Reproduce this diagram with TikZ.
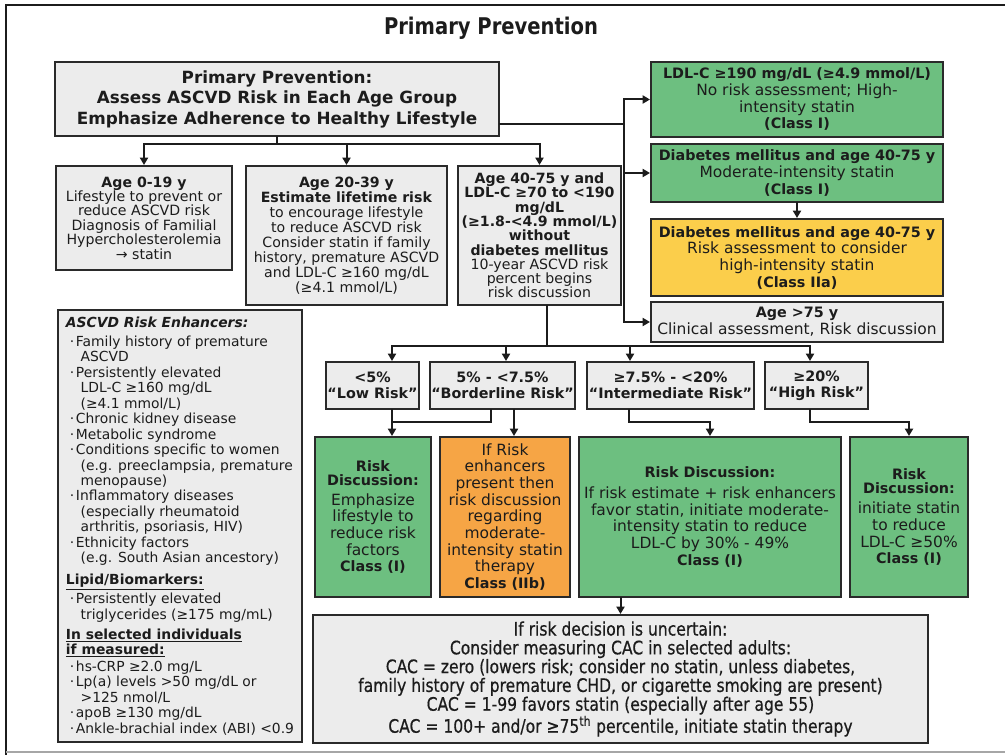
\documentclass[tikz,border=0pt]{standalone}
\usepackage{fontspec}
\setmainfont{DejaVu Sans}
\newfontfamily\headfont[FakeStretch=0.85]{DejaVu Sans}
\newfontfamily\condfont[FakeStretch=0.84,FakeBold=0.6]{DejaVu Sans}
\usetikzlibrary{positioning,calc,arrows.meta}
\definecolor{panel}{HTML}{ECECEC}
\definecolor{leaf}{HTML}{6DBF80}
\definecolor{amber}{HTML}{FBCE4B}
\definecolor{tangerine}{HTML}{F6A545}
\definecolor{edge}{HTML}{2A2A2A}
\definecolor{ink}{HTML}{1C1C1C}
\newcommand{\hd}[1]{{\bfseries\fontsize{10.75}{12.5}\selectfont#1}}
\newcommand{\itm}{\hspace*{3pt}\makebox[4.5pt][l]{·}}
\newcommand{\cnt}{\hspace*{11pt}}

\begin{document}
\begin{tikzpicture}[x=0.75pt,y=-0.75pt,
 box/.style={draw=edge,line width=1.5pt,fill=panel,inner sep=0pt,align=center,text=ink,font=\fontsize{11.6}{12.5}\selectfont},
 leafbox/.style={box,fill=leaf},
 amberbox/.style={box,fill=amber},
 orangebox/.style={box,fill=tangerine},
 agebox/.style={box,font=\fontsize{10.6}{10.8}\selectfont},
 riskbox/.style={box,font=\bfseries\fontsize{10.75}{12}\selectfont,minimum height=35.25pt},
 talkbox/.style={box,fill=leaf,minimum height=120pt},
 link/.style={draw=ink,line width=1.5pt,line cap=rect},
 arrow/.style={link,-{Triangle[length=5.5pt,width=6pt]}}]
 \useasboundingbox (0,0) rectangle (1005,755);
 \draw[ink,line width=2.2pt] (6,755) -- (6,5) -- (1005,5);
 \draw[gray!70,line width=1.5pt] (6,752) -- (1005,752);
 \node[anchor=base,text=ink,font=\headfont\bfseries\fontsize{17.25}{20}\selectfont] (title) at (491,35) {Primary Prevention};

 \node[box,minimum width=333pt,minimum height=55.5pt,font=\bfseries\fontsize{12.6}{15.4}\selectfont] (main) at (277,99) {Primary Prevention:\\Assess ASCVD Risk in Each Age Group\\Emphasize Adherence to Healthy Lifestyle};
 \node[agebox,minimum width=132pt,minimum height=78pt] (age1) at (144,218) {\textbf{Age 0-19 y}\\Lifestyle to prevent or\\reduce ASCVD risk\\Diagnosis of Familial\\Hypercholesterolemia\\→ statin};
 \node[agebox,font=\fontsize{10.6}{11.3}\selectfont,minimum width=150.75pt,minimum height=104.25pt,right=9pt of age1.north east,anchor=north west] (age2) {\textbf{Age 20-39 y}\\\textbf{Estimate lifetime risk}\\to encourage lifestyle\\to reduce ASCVD risk\\Consider statin if family\\history, premature ASCVD\\and LDL-C ≥160 mg/dL\\(≥4.1 mmol/L)};
 \node[agebox,font=\fontsize{10.6}{10.7}\selectfont,minimum width=122.25pt,minimum height=104.25pt,right=6.75pt of age2.north east,anchor=north west] (age3) {\textbf{Age 40-75 y and}\\\textbf{LDL-C ≥70 to <190}\\\textbf{mg/dL}\\\textbf{(≥1.8-<4.9 mmol/L)}\\\textbf{without}\\\textbf{diabetes mellitus}\\10-year ASCVD risk\\percent begins\\risk discussion};

 \node[leafbox,minimum width=219pt,minimum height=56.25pt] (ldl) at (797,99.5) {\hd{LDL-C ≥190 mg/dL (≥4.9 mmol/L)}\\No risk assessment; High-\\intensity statin\\\hd{(Class I)}};
 \node[leafbox,minimum width=219pt,minimum height=43.5pt,below=3.75pt of ldl] (dm1) {\hd{Diabetes mellitus and age 40-75 y}\\Moderate-intensity statin\\\hd{(Class I)}};
 \node[amberbox,minimum width=219pt,minimum height=57.75pt,below=11.25pt of dm1] (dm2) {\hd{Diabetes mellitus and age 40-75 y}\\Risk assessment to consider\\high-intensity statin\\\hd{(Class IIa)}};
 \node[box,minimum width=219pt,minimum height=30pt,below=3pt of dm2] (old) {\hd{Age >75 y}\\Clinical assessment, Risk discussion};

 \node[box,minimum width=183pt,minimum height=324pt,align=left,font=\fontsize{10.4}{11.6}\selectfont] (enh) at (180,526) {\textbf{\textit{ASCVD Risk Enhancers:}}\\[2.6pt]
  \itm Family history of premature\\
  \cnt ASCVD\\
  \itm Persistently elevated\\
  \cnt LDL-C ≥160 mg/dL\\
  \cnt (≥4.1 mmol/L)\\
  \itm Chronic kidney disease\\
  \itm Metabolic syndrome\\
  \itm Conditions specific to women\\
  \cnt (e.g. preeclampsia, premature\\
  \cnt menopause)\\
  \itm Inflammatory diseases\\
  \cnt (especially rheumatoid\\
  \cnt arthritis, psoriasis, HIV)\\
  \itm Ethnicity factors\\
  \cnt (e.g. South Asian ancestory)\\[4.9pt]
  \textbf{\underline{Lipid/Biomarkers:}}\\[1.1pt]
  \itm Persistently elevated\\
  \cnt triglycerides (≥175 mg/mL)\\[3.4pt]
  \textbf{\underline{In selected individuals}}\\
  \textbf{\underline{if measured:}}\\[1pt]
  \itm hs-CRP ≥2.0 mg/L\\
  \itm Lp(a) levels >50 mg/dL or\\
  \cnt >125 nmol/L\\
  \itm apoB ≥130 mg/dL\\
  \itm Ankle-brachial index (ABI) <0.9};

 \node[riskbox,minimum width=69.75pt] (low) at (372.5,385.5) {<5\%\\“Low Risk”};
 \node[riskbox,minimum width=108.75pt,right=6.75pt of low] (bord) {5\% - <7.5\%\\“Borderline Risk”};
 \node[riskbox,minimum width=125.25pt,right=7.5pt of bord] (inter) {≥7.5\% - <20\%\\“Intermediate Risk”};
 \node[riskbox,minimum width=77.25pt,right=6.75pt of inter] (high) {≥20\%\\“High Risk”};

 \node[talkbox,minimum width=87pt] (rlow) at (373,517) {\hd{Risk}\\[-2pt]\hd{Discussion:}\\[2.5pt]Emphasize\\lifestyle to\\reduce risk\\factors\\\hd{Class (I)}};
 \node[orangebox,minimum width=97.5pt,minimum height=120pt,right=5.25pt of rlow] (rbord) {If Risk\\enhancers\\present then\\risk discussion\\regarding\\moderate-\\intensity statin\\therapy\\\hd{Class (IIb)}};
 \node[talkbox,minimum width=196.5pt,right=5.25pt of rbord] (rinter) {\hd{Risk Discussion:}\\[3.2pt]If risk estimate + risk enhancers\\favor statin, initiate moderate-\\intensity statin to reduce\\LDL-C by 30\% - 49\%\\\hd{Class (I)}};
 \node[talkbox,minimum width=88.5pt,right=5.25pt of rinter] (rhigh) {\hd{Risk}\\[-1.3pt]\hd{Discussion:}\\[2.5pt]initiate statin\\to reduce\\LDL-C ≥50\%\\\hd{Class (I)}};

 \node[box,minimum width=461.25pt,minimum height=96pt,font=\condfont\fontsize{13.9}{14.1}\selectfont] (cac) at (620.5,679) {If risk decision is uncertain:\\Consider measuring CAC in selected adults:\\CAC = zero (lowers risk; consider no statin, unless diabetes,\\family history of premature CHD, or cigarette smoking are present)\\CAC = 1-99 favors statin (especially after age 55)\\CAC = 100+ and/or ≥75\textsuperscript{th} percentile, initiate statin therapy};

 \coordinate (hub) at ($(main.south)+(0,7)$);
 \draw[link] (main.south) -- (hub);
 \foreach \n in {age1,age2,age3} \draw[arrow] (hub) -| (\n.north);

 \coordinate (tap) at ($(main.south east)+(0,-13)$);
 \coordinate (bus) at ($(ldl.west)+(-26,0)$);
 \draw[link] (tap) -- (tap -| bus);
 \draw[arrow] (bus |- old.west) -- (bus) -- (ldl.west);
 \draw[arrow] (bus |- dm1.west) -- (dm1.west);
 \draw[arrow] (bus |- old.west) -- (old.west);
 \draw[arrow] (dm1.south) -- (dm2.north);

 \coordinate (fork) at ($(age3.south)+(7.5,40)$);
 \draw[link] (fork |- age3.south) -- (fork);
 \foreach \n/\dx in {low/19.5,bord/3.5,inter/-40.5,high/-6.5} \draw[arrow] (fork) -| ($(\n.north)+(\dx,0)$);

 \coordinate (lowdrop) at ($(low.south)+(19.5,0)$);
 \coordinate (bdropa) at ($(bord.south)+(-11.5,0)$);
 \coordinate (bdropb) at ($(bord.south)+(11.5,0)$);
 \coordinate (idrop) at ($(inter.south)+(-41.5,0)$);
 \coordinate (hdrop) at ($(high.south)+(-6.5,0)$);
 \draw[arrow] (lowdrop) -- (lowdrop |- rlow.north);
 \draw[link] (bdropa) |- ($(lowdrop)+(0,12)$);
 \draw[arrow] (bdropb) -- (bdropb |- rbord.north);
 \draw[arrow] (idrop) -- ++(0,12) -| (rinter.north);
 \draw[arrow] (hdrop) -- ++(0,12) -| (rhigh.north);
 \draw[arrow] (rinter.south -| cac.north) -- (cac.north);
\end{tikzpicture}
\end{document}
